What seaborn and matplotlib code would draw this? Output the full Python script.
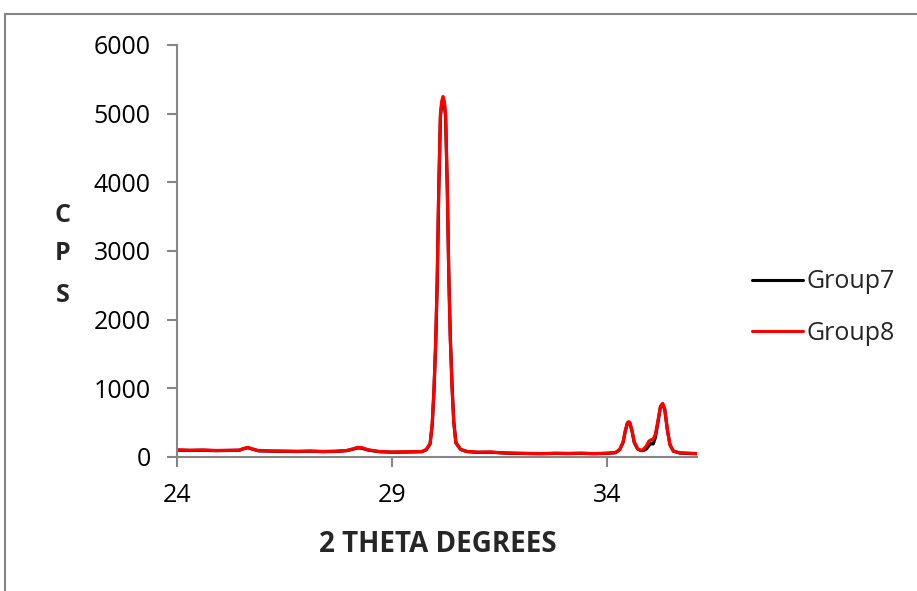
import matplotlib
matplotlib.use("Agg")
import matplotlib.pyplot as plt
from matplotlib.lines import Line2D
import seaborn as sns
import pandas as pd

two_theta = [24.0, 24.3, 24.6, 24.9, 25.2, 25.45, 25.55, 25.65, 25.75, 25.9,
             26.2, 26.5, 26.8, 27.1, 27.4, 27.7, 27.95, 28.1, 28.2, 28.3,
             28.45, 28.7, 29.0, 29.3, 29.55, 29.7, 29.8, 29.89, 29.94, 29.98,
             30.02, 30.055, 30.09, 30.13, 30.16, 30.19, 30.22, 30.25, 30.29, 30.325,
             30.36, 30.4, 30.44, 30.49, 30.6, 30.75, 31.0, 31.3, 31.6, 31.9,
             32.2, 32.5, 32.8, 33.1, 33.4, 33.7, 34.0, 34.2, 34.3, 34.38,
             34.43, 34.48, 34.51, 34.54, 34.59, 34.64, 34.72, 34.8, 34.85, 34.92,
             34.98, 35.03, 35.08, 35.13, 35.19, 35.25, 35.3, 35.35, 35.41, 35.47,
             35.55, 35.7, 35.9, 36.1]

group7 = [100, 95, 98, 92, 95, 98, 120, 135, 115, 90,
          85, 83, 80, 84, 78, 82, 92, 115, 132, 128,
          100, 78, 70, 72, 75, 78, 105, 190, 480, 960,
          1650, 2550, 3850, 4950, 5150, 5220, 5150, 4950, 3900, 2650,
          1750, 1050, 520, 210, 110, 78, 68, 70, 58, 53,
          50, 48, 52, 50, 53, 48, 52, 62, 105, 210,
          370, 490, 505, 490, 370, 210, 115, 92, 95, 115,
          165, 195, 190, 280, 500, 730, 770, 690, 400, 180,
          85, 58, 52, 48]

group8 = [105, 98, 102, 95, 97, 100, 125, 140, 118, 92,
          88, 85, 82, 86, 80, 84, 95, 120, 140, 135,
          105, 80, 72, 75, 78, 80, 110, 200, 500, 1000,
          1700, 2600, 3900, 5000, 5180, 5250, 5180, 5000, 3900, 2600,
          1700, 1000, 500, 200, 110, 80, 70, 72, 60, 55,
          52, 50, 55, 52, 55, 50, 55, 65, 110, 220,
          380, 500, 514, 500, 380, 220, 120, 95, 110, 160,
          230, 250, 260, 330, 520, 740, 781, 700, 400, 180,
          85, 60, 55, 50]

series_names = ["Group7", "Group8"]
series_colors = ["#000000", "#FF0000"]
x_ticks = [24, 29, 34]
y_ticks = [0, 1000, 2000, 3000, 4000, 5000, 6000]

df = pd.concat([
    pd.DataFrame({"x": two_theta, "y": group7, "series": series_names[0]}),
    pd.DataFrame({"x": two_theta, "y": group8, "series": series_names[1]}),
])

sns.set_style("white")
plt.rcParams["font.family"] = ["Open Sans", "DejaVu Sans"]

W, H = 917, 591
fig = plt.figure(figsize=(W / 100, H / 100), dpi=100)
ax = fig.add_axes([177 / W, 1 - 457 / H, (697 - 177) / W, (457 - 45) / H])

sns.lineplot(data=df, x="x", y="y", hue="series", palette=series_colors,
             estimator=None, sort=False, linewidth=2.3, ax=ax, legend=False)

ax.set_xlim(24, 36.1)
ax.set_ylim(0, 6000)
ax.set_xticks(x_ticks)
ax.set_yticks(y_ticks)
ax.set_xticklabels([str(t) for t in x_ticks])
ax.set_yticklabels([str(t) for t in y_ticks])
ax.set_xlabel("")
ax.set_ylabel("")

gray = "#868686"
for s in ["top", "right"]:
    ax.spines[s].set_visible(False)
for s in ["left", "bottom"]:
    ax.spines[s].set_color(gray)
    ax.spines[s].set_linewidth(1.5)
ax.tick_params(axis="both", direction="out", length=7, width=1.5, color=gray,
               labelsize=18, labelcolor="black")
ax.tick_params(axis="y", pad=12)
ax.tick_params(axis="x", pad=12)
ax.tick_params(left=True, bottom=True)

handles = [Line2D([0], [0], color=c, lw=2.2) for c in series_colors]
fig.legend(handles, series_names, loc="center left",
           bbox_to_anchor=(752 / W, 1 - 307.5 / H), frameon=False,
           borderpad=0, borderaxespad=0, handlelength=2.04, handletextpad=0.16,
           labelspacing=1.05, fontsize=18)

for letter, yy in zip(["C", "P", "S"], [215, 254, 295]):
    fig.text(63 / W, 1 - yy / H, letter, ha="center", va="center",
             fontsize=18, fontweight="bold")
fig.text(438 / W, 1 - 544 / H, "2 THETA DEGREES", ha="center", va="center",
         fontsize=20, fontweight="bold")

fig.add_artist(Line2D([5 / W, 1.0], [1 - 14 / H, 1 - 14 / H], color=gray, lw=1.5))
fig.add_artist(Line2D([5 / W, 5 / W], [0.0, 1 - 14 / H], color=gray, lw=1.5))

fig.savefig("out.png", dpi=100)
